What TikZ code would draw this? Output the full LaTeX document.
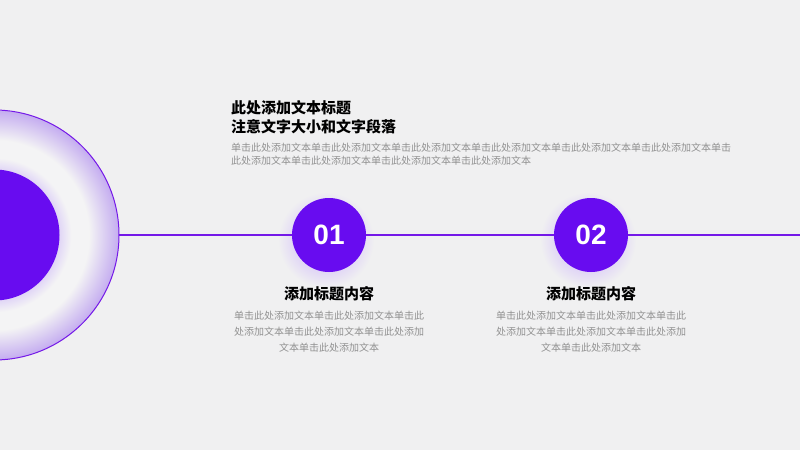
\documentclass[tikz,border=0pt]{standalone}
\usepackage{fontspec}
\setmainfont{Liberation Sans}
\newfontfamily\cjk{Noto Sans CJK SC}
\definecolor{bgc}{RGB}{240,240,241}
\definecolor{vio}{RGB}{104,12,240}
\definecolor{linec}{RGB}{116,24,232}
\definecolor{lav}{RGB}{196,172,240}
\definecolor{glowc}{RGB}{224,213,246}
\definecolor{bodyc}{RGB}{145,145,145}
\pgfdeclareradialshading{ringshade}{\pgfpoint{0bp}{0bp}}{%
  color(0bp)=(glowc); color(13bp)=(glowc); color(15.5bp)=(bgc!70!white);
  color(19bp)=(bgc!75!white); color(25bp)=(lav)}
\pgfdeclareradialshading{glowshade}{\pgfpoint{0bp}{0bp}}{%
  color(0bp)=(glowc); color(16bp)=(glowc); color(25bp)=(bgc)}
\tikzset{
  ttl/.style={font=\cjk\bfseries\fontsize{15}{19}\selectfont, text=black, anchor=north west, inner sep=0pt, align=left},
  para/.style={font=\cjk\fontsize{10}{13}\selectfont, text=bodyc, anchor=north west, inner sep=0pt, align=left},
  numcirc/.style={circle, fill=vio, minimum size=74pt, inner sep=0pt, text=white, font=\bfseries\fontsize{28}{28}\selectfont},
  subttl/.style={font=\cjk\bfseries\fontsize{15}{17}\selectfont, text=black, inner sep=0pt},
  subbody/.style={font=\cjk\fontsize{10}{16}\selectfont, text=bodyc, inner sep=0pt, align=center, anchor=north},
  tline/.style={draw=linec, line width=1.4pt}
}
\begin{document}
\begin{tikzpicture}[x=1pt,y=-1pt]
\useasboundingbox (0,0) rectangle (800,450);
\clip (0,0) rectangle (800,450);
\fill[bgc] (0,0) rectangle (800,450);
% big ring
\shade[shading=ringshade] (-6,235) circle (125);
\draw[linec, line width=1pt] (-6,235) circle (125);
\fill[vio] (-6,235) circle (65.5);
\coordinate (ringR) at (119,235);
\coordinate (lineEnd) at (800,235);
% glows
\shade[shading=glowshade] (326,240) circle (48);
\shade[shading=glowshade] (588,240) circle (48);
% number circles
\node[numcirc] (c1) at (329,235) {01};
\node[numcirc] (c2) at (591,235) {02};
\draw[tline] (ringR) -- (c1);
\draw[tline] (c1) -- (c2);
\draw[tline] (c2) -- (lineEnd);
% top title
\node[ttl] (title) at (231,100) {此处添加文本标题\\注意文字大小和文字段落};
\node[para] (tpara) at (231,143) {单击此处添加文本单击此处添加文本单击此处添加文本单击此处添加文本单击此处添加文本单击此处添加文本单击\\此处添加文本单击此处添加文本单击此处添加文本单击此处添加文本};
% items
\node[subttl] (s1) at (329,294) {添加标题内容};
\node[subbody] (b1) at (329,311) {单击此处添加文本单击此处添加文本单击此\\处添加文本单击此处添加文本单击此处添加\\文本单击此处添加文本};
\node[subttl] (s2) at (591,294) {添加标题内容};
\node[subbody] (b2) at (591,311) {单击此处添加文本单击此处添加文本单击此\\处添加文本单击此处添加文本单击此处添加\\文本单击此处添加文本};
\end{tikzpicture}
\end{document}
